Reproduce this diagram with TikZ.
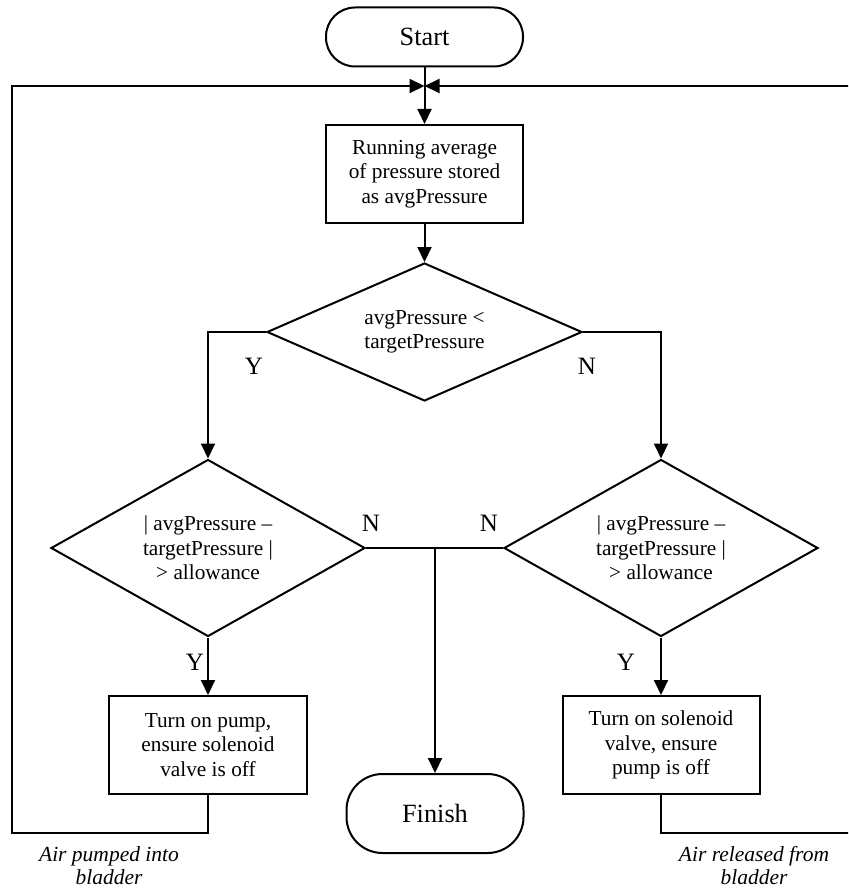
\documentclass[tikz,border=0pt]{standalone}
\usepackage{fontspec}
\setmainfont{Liberation Serif}
\usetikzlibrary{shapes.geometric,arrows.meta}
\begin{document}
\begin{tikzpicture}[x=1pt,y=-1pt,line width=2pt,
  >={Triangle[length=15pt,width=14pt]},
  procbox/.style={draw,rectangle,align=center,inner sep=0pt,
    minimum width=197pt,minimum height=98pt,
    font=\fontsize{21.3}{24.5}\selectfont},
  decision/.style={draw,diamond,align=center,inner sep=0pt,aspect=2,
    font=\fontsize{21.3}{24.5}\selectfont},
  termbox/.style={draw,rectangle,inner sep=0pt,font=\fontsize{26.3}{27}\selectfont},
  yn/.style={font=\fontsize{25}{25}\selectfont,inner sep=0pt},
  note/.style={align=center,inner sep=0pt,font=\itshape\fontsize{21.5}{23}\selectfont}]
\useasboundingbox (0,0) rectangle (848,890);
\clip (0,0) rectangle (848,890);
% nodes
\node[termbox,rounded corners=29pt,minimum width=197pt,minimum height=59pt] (start) at (424.5,37) {Start};
\node[procbox] (avg) at (424.5,174) {Running average\\of pressure stored\\as avgPressure};
\node[decision,minimum width=315pt,minimum height=138pt] (d1) at (424.5,332)
  {avgPressure <\\targetPressure};
\node[decision,minimum width=314pt,minimum height=177pt] (d2) at (208,548)
  {| avgPressure –\\targetPressure |\\> allowance};
\node[decision,minimum width=314pt,minimum height=177pt] (d3) at (661,548)
  {| avgPressure –\\targetPressure |\\> allowance};
\node[procbox,minimum width=198pt] (pump) at (208,745)
  {Turn on pump,\\ensure solenoid\\valve is off};
\node[procbox,minimum width=197pt] (valve) at (661,745)
  {Turn on solenoid\\valve, ensure\\pump is off};
\node[termbox,rounded corners=36pt,minimum width=177pt,minimum height=79pt] (finish) at (435,813.5) {Finish};
% labels
\node[yn] (y1) at (254,366) {Y};
\node[yn] (n1) at (587,366) {N};
\node[yn] (n2) at (371,523) {N};
\node[yn] (n3) at (489,523) {N};
\node[yn] (y2) at (195,662) {Y};
\node[yn] (y3) at (626,662) {Y};
\node[note] (airin) at (109,866) {Air pumped into\\bladder};
\node[note] (airout) at (754,866) {Air released from\\bladder};
% coordinates
\coordinate (m) at (424.5,86);
\coordinate (j) at (435,548);
\coordinate (ll) at (12,833);
\coordinate (rl) at (856,833);
% connectors
\draw[->] (start) -- (avg);
\draw[->] (avg) -- (d1);
\draw[->] (d1.west) -| (d2.north);
\draw[->] (d1.east) -| (d3.north);
\draw (d2.east) -- (d3.west);
\draw[->] (j) -- (finish.north);
\draw[->] (d2.south) -- (pump);
\draw[->] (d3.south) -- (valve);
\draw[->] (pump.south) |- (ll) |- (m);
\draw[->] (valve.south) |- (rl) |- (m);
\end{tikzpicture}
\end{document}
